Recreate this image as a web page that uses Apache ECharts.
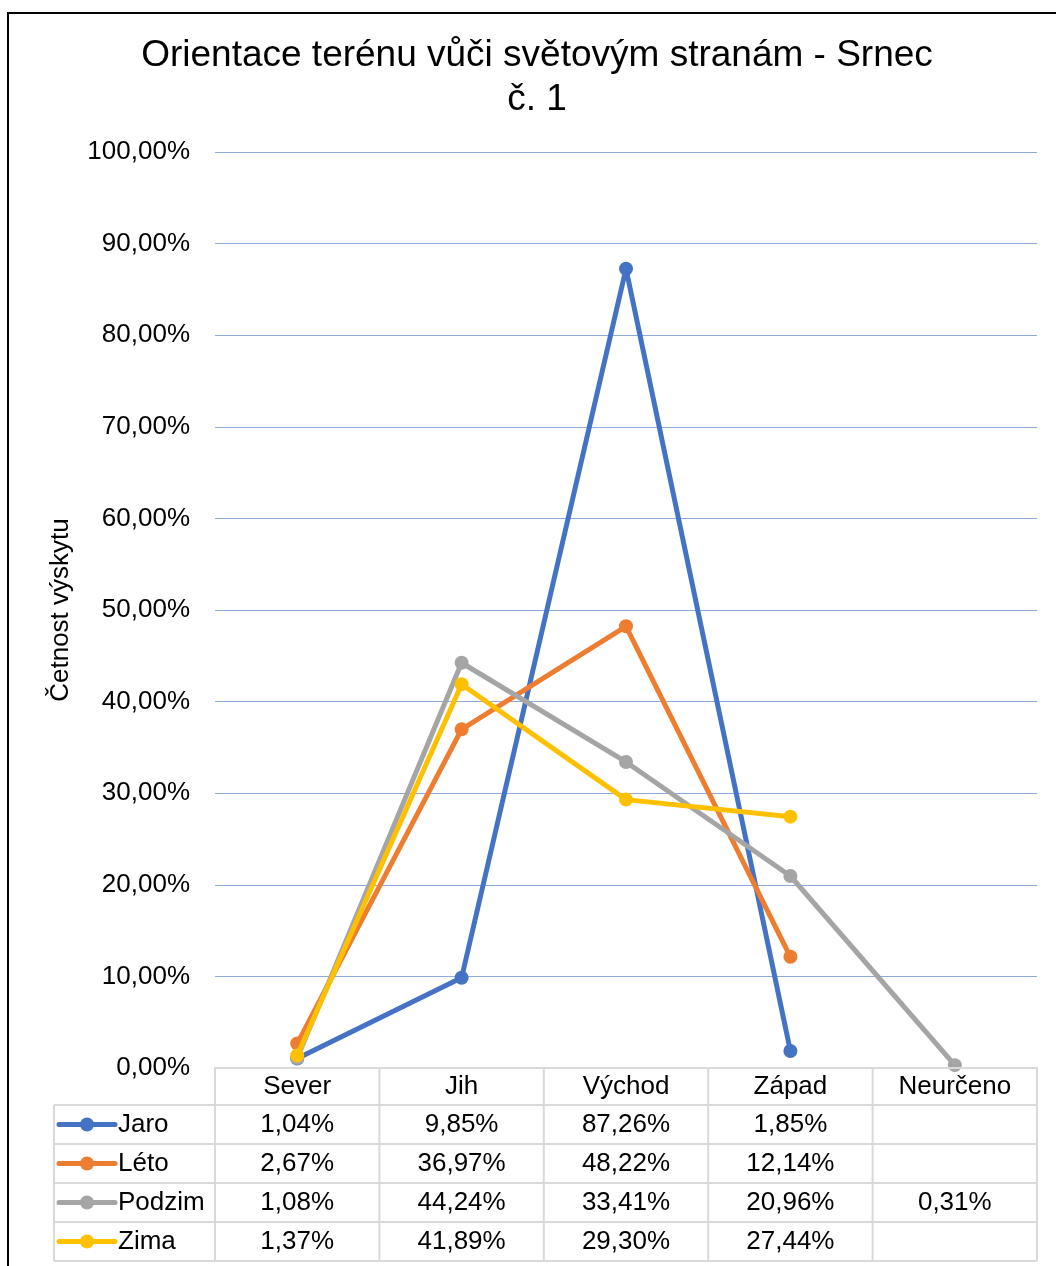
<!DOCTYPE html>
<html>
<head>
<meta charset="utf-8">
<title>Orientace terénu vůči světovým stranám - Srnec č. 1</title>
<script src="https://cdn.jsdelivr.net/npm/echarts@6/dist/echarts.min.js"></script>
<style>
  html, body { margin: 0; padding: 0; background: #fff; }
  #chart { width: 1056px; height: 1266px; }
</style>
</head>
<body>
<div id="chart"></div>
<script>
// Categories (compass directions) and seasonal frequencies in percent
const categories = ['Sever', 'Jih', 'Východ', 'Západ', 'Neurčeno'];
const seriesNames = ['Jaro', 'Léto', 'Podzim', 'Zima'];
const jaro   = [1.04, 9.85, 87.26, 1.85, null];
const leto   = [2.67, 36.97, 48.22, 12.14, null];
const podzim = [1.08, 44.24, 33.41, 20.96, 0.31];
const zima   = [1.37, 41.89, 29.30, 27.44, null];
const yTicks = { min: 0, max: 100, interval: 10 };

const colors = ['#4472C4', '#ED7D31', '#A5A5A5', '#FFC000'];
const allSeries = [jaro, leto, podzim, zima];
const FONT = '"Liberation Sans", Arial, sans-serif';
const BORDER = '#D9D9D9';

const fmtPct = v => v.toFixed(2).replace('.', ',') + '%';

const chart = echarts.init(document.getElementById('chart'), null, { renderer: 'canvas' });

const baseOption = {
  animation: false,
  backgroundColor: '#fff',
  textStyle: { fontFamily: FONT },
  grid: { left: 215, right: 19, top: 152, bottom: 198, containLabel: false },
  xAxis: {
    type: 'category',
    data: categories,
    boundaryGap: true,
    axisLine: { show: true, lineStyle: { color: BORDER, width: 2 } },
    axisTick: { show: false },
    axisLabel: { show: false },
    splitLine: { show: false },
    z: 5
  },
  yAxis: {
    type: 'value',
    min: yTicks.min,
    max: yTicks.max,
    interval: yTicks.interval,
    name: 'Četnost výskytu',
    nameLocation: 'middle',
    nameRotate: 90,
    nameGap: 141,
    nameTextStyle: { fontSize: 26, color: '#000', fontFamily: FONT },
    axisLine: { show: false },
    axisTick: { show: false },
    axisLabel: {
      fontSize: 26, color: '#000', margin: 25, fontFamily: FONT,
      formatter: v => fmtPct(v)
    },
    splitLine: { show: true, lineStyle: { color: '#8FAADC', width: 1 } }
  },
  series: allSeries.map((d, i) => ({
    name: seriesNames[i],
    type: 'line',
    data: d,
    connectNulls: false,
    symbol: 'circle',
    symbolSize: 14,
    color: colors[i],
    lineStyle: { width: 5, color: colors[i] },
    itemStyle: { color: colors[i] },
    z: 2 + i
  }))
};

chart.setOption(baseOption);

// Build the data table underneath the plot from the axis scales
function buildTable() {
  const g = [];
  // Outer chart frame
  g.push({ type: 'rect', shape: { x: 8, y: 13, width: 1100, height: 1300 },
    style: { fill: null, stroke: '#000', lineWidth: 2 }, silent: true, z: 100 });
  // Title
  g.push({ type: 'text', x: 537, y: 34, z: 100,
    style: { text: 'Orientace terénu vůči světovým stranám - Srnec\nč. 1',
      font: '37px ' + FONT, fill: '#000', align: 'center', verticalAlign: 'top', lineHeight: 44 } });

  const y0 = chart.convertToPixel({ yAxisIndex: 0 }, 0);
  const centers = categories.map((c, i) => chart.convertToPixel({ xAxisIndex: 0 }, i));
  const band = centers[1] - centers[0];
  const edges = [centers[0] - band / 2].concat(centers.map(c => c + band / 2));
  const headerH = 37, rowH = 39;
  const rowTops = [y0, y0 + headerH];
  for (let r = 0; r < seriesNames.length; r++) rowTops.push(rowTops[rowTops.length - 1] + rowH);
  const tableLeft = 54;
  const right = edges[edges.length - 1];
  const bottom = rowTops[rowTops.length - 1];
  const line = (x1, y1, x2, y2) => g.push({ type: 'line', silent: true, z: 50,
    shape: { x1, y1, x2, y2 }, style: { stroke: BORDER, lineWidth: 2 } });

  // Horizontal rules
  for (let r = 1; r < rowTops.length; r++) line(tableLeft, rowTops[r], right, rowTops[r]);
  // Vertical rules
  line(tableLeft, rowTops[1], tableLeft, bottom);
  edges.forEach(x => line(x, y0, x, bottom));

  const txt = (text, x, y, align) => g.push({ type: 'text', x, y, z: 60,
    style: { text, font: '26px ' + FONT, fill: '#000', align: align || 'center', verticalAlign: 'middle' } });

  // Header row: category names
  categories.forEach((c, i) => txt(c, centers[i], (rowTops[0] + rowTops[1]) / 2));

  // Data rows with legend keys
  allSeries.forEach((d, s) => {
    const cy = (rowTops[s + 1] + rowTops[s + 2]) / 2;
    g.push({ type: 'line', silent: true, z: 60, shape: { x1: 59, y1: cy, x2: 115, y2: cy },
      style: { stroke: colors[s], lineWidth: 5, lineCap: 'round' } });
    g.push({ type: 'circle', silent: true, z: 61, shape: { cx: 87, cy: cy, r: 7 },
      style: { fill: colors[s] } });
    txt(seriesNames[s], 118, cy, 'left');
    d.forEach((v, i) => { if (v !== null) txt(fmtPct(v), centers[i], cy); });
  });
  chart.setOption({ graphic: g });
}
buildTable();
</script>
</body>
</html>
